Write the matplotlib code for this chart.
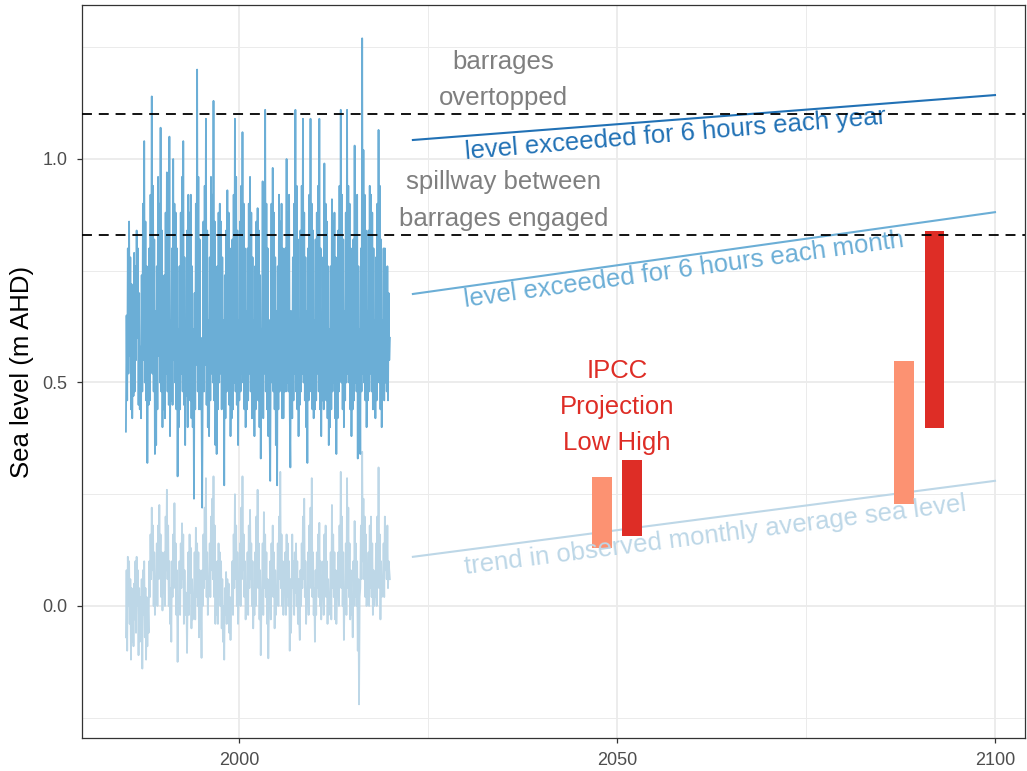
import numpy as np
import matplotlib
matplotlib.use('Agg')
import matplotlib.pyplot as plt

plt.rcParams['font.family'] = ['Liberation Sans', 'DejaVu Sans']

# observed record, one row per year (Jan..Dec)
years = list(range(1985, 2020))

monthly_max = [
    [0.39, 0.65, 0.46, 0.80, 0.52, 0.86, 0.56, 0.78, 0.44, 0.72, 0.42, 0.62],
    [0.47, 0.79, 0.48, 0.76, 0.55, 0.84, 0.60, 0.80, 0.45, 0.70, 0.44, 0.58],
    [0.42, 0.74, 0.48, 0.90, 0.55, 1.04, 0.50, 0.86, 0.46, 0.76, 0.32, 0.62],
    [0.45, 0.80, 0.46, 0.92, 0.58, 1.14, 0.52, 0.94, 0.48, 0.82, 0.34, 0.66],
    [0.36, 0.76, 0.44, 0.96, 0.56, 0.90, 0.50, 1.07, 0.48, 0.84, 0.40, 0.68],
    [0.44, 0.74, 0.42, 0.88, 0.52, 0.97, 0.48, 0.92, 0.45, 1.05, 0.38, 0.64],
    [0.46, 0.80, 0.45, 1.00, 0.55, 0.90, 0.50, 0.88, 0.44, 0.80, 0.29, 0.62],
    [0.40, 0.76, 0.44, 0.88, 0.52, 0.96, 0.48, 1.04, 0.45, 0.78, 0.36, 0.64],
    [0.47, 0.84, 0.40, 0.92, 0.50, 0.88, 0.46, 0.92, 0.42, 0.76, 0.40, 0.62],
    [0.24, 0.70, 0.44, 0.90, 0.54, 1.20, 0.48, 0.96, 0.44, 0.82, 0.44, 0.60],
    [0.45, 0.22, 0.56, 0.86, 0.48, 0.94, 0.54, 1.09, 0.45, 0.84, 0.40, 0.64],
    [0.38, 0.78, 0.46, 0.96, 0.52, 0.92, 0.50, 1.13, 0.46, 0.86, 0.36, 0.64],
    [0.34, 0.76, 0.44, 0.88, 0.50, 0.90, 0.52, 0.86, 0.44, 0.78, 0.46, 0.64],
    [0.27, 0.74, 0.42, 0.84, 0.48, 0.93, 0.50, 0.88, 0.45, 0.80, 0.38, 0.62],
    [0.42, 0.82, 0.44, 0.92, 0.50, 1.09, 0.48, 0.96, 0.45, 0.84, 0.36, 0.64],
    [0.46, 0.86, 0.48, 0.94, 0.52, 1.06, 0.50, 0.90, 0.44, 0.80, 0.40, 0.66],
    [0.44, 0.80, 0.46, 0.90, 0.52, 0.96, 0.48, 0.88, 0.42, 0.78, 0.42, 0.64],
    [0.38, 0.76, 0.44, 0.86, 0.50, 0.89, 0.46, 0.84, 0.40, 0.74, 0.33, 0.62],
    [0.52, 0.95, 0.42, 0.88, 0.52, 1.11, 0.48, 0.90, 0.44, 0.80, 0.38, 0.64],
    [0.40, 0.28, 0.62, 0.90, 0.50, 0.98, 0.48, 0.88, 0.44, 0.78, 0.36, 0.66],
    [0.27, 0.76, 0.44, 0.92, 0.48, 0.86, 0.50, 0.90, 0.42, 0.80, 0.42, 0.64],
    [0.48, 0.80, 0.48, 1.00, 0.50, 0.88, 0.48, 0.92, 0.44, 0.31, 0.66, 0.60],
    [0.42, 0.78, 0.46, 0.90, 0.52, 1.11, 0.48, 0.94, 0.44, 0.82, 0.38, 0.64],
    [0.45, 0.84, 0.48, 0.94, 0.52, 1.09, 0.50, 0.88, 0.46, 0.78, 0.40, 0.66],
    [0.32, 0.80, 0.46, 0.92, 0.50, 1.09, 0.48, 0.90, 0.44, 0.84, 0.42, 0.64],
    [0.44, 0.82, 0.46, 0.88, 0.52, 0.94, 0.48, 1.09, 0.44, 0.80, 0.38, 0.64],
    [0.46, 0.78, 0.44, 0.99, 0.50, 0.90, 0.46, 0.86, 0.42, 0.76, 0.36, 0.62],
    [0.40, 0.76, 0.44, 0.91, 0.48, 0.86, 0.50, 0.88, 0.42, 0.78, 0.34, 0.64],
    [0.42, 0.84, 0.48, 0.94, 0.52, 1.11, 0.50, 0.92, 0.44, 0.82, 0.40, 0.66],
    [0.46, 0.88, 0.50, 1.11, 0.52, 0.94, 0.50, 0.90, 0.44, 0.80, 0.38, 0.64],
    [0.44, 0.82, 0.46, 1.03, 0.50, 0.88, 0.48, 0.92, 0.33, 0.76, 0.42, 0.62],
    [0.34, 0.80, 0.48, 1.27, 0.52, 1.02, 0.50, 0.92, 0.46, 0.84, 0.40, 0.66],
    [0.46, 0.84, 0.48, 0.94, 0.52, 0.92, 0.48, 0.88, 0.44, 0.80, 0.44, 0.64],
    [0.42, 0.78, 0.46, 0.90, 0.52, 1.065, 0.50, 0.94, 0.44, 0.82, 0.40, 0.64],
    [0.48, 0.80, 0.46, 0.80, 0.50, 0.74, 0.48, 0.76, 0.46, 0.70, 0.55, 0.60],
]

monthly_mean = [
    [-0.07, 0.08, -0.10, 0.11, 0.00, 0.10, -0.04, 0.06, -0.12, 0.04, -0.08, 0.02],
    [-0.09, 0.05, -0.03, 0.10, -0.06, 0.11, 0.00, 0.08, -0.11, 0.04, -0.08, 0.02],
    [-0.05, 0.06, -0.14, 0.08, -0.02, 0.10, -0.07, 0.04, -0.12, 0.02, -0.09, 0.00],
    [-0.06, 0.10, 0.02, 0.16, 0.06, 0.22, 0.08, 0.18, 0.00, 0.12, -0.02, 0.05],
    [0.04, 0.14, 0.00, 0.18, 0.06, 0.226, 0.08, 0.16, 0.02, 0.12, -0.01, 0.06],
    [0.03, 0.12, 0.00, 0.20, 0.08, 0.26, 0.06, 0.18, 0.00, 0.10, -0.04, 0.04],
    [-0.08, 0.10, 0.02, 0.16, 0.04, 0.23, 0.06, 0.14, -0.02, 0.08, -0.125, 0.02],
    [0.00, 0.10, -0.02, 0.14, 0.04, 0.185, 0.06, 0.16, -0.04, 0.08, -0.02, 0.03],
    [0.02, -0.105, 0.04, 0.12, -0.02, 0.16, 0.03, 0.13, -0.05, 0.06, -0.03, 0.02],
    [0.00, 0.12, -0.03, 0.175, 0.02, 0.14, 0.00, 0.12, -0.07, 0.08, -0.05, 0.01],
    [-0.116, 0.08, 0.00, 0.16, 0.04, 0.22, 0.06, 0.286, 0.02, 0.12, -0.02, 0.04],
    [0.04, 0.14, 0.02, 0.20, 0.08, 0.24, 0.06, 0.29, 0.02, 0.18, -0.04, 0.08],
    [-0.02, 0.10, -0.04, 0.14, 0.02, 0.12, 0.00, 0.10, -0.05, 0.06, -0.08, 0.00],
    [-0.12, 0.04, -0.02, 0.076, -0.04, 0.06, 0.00, 0.05, -0.06, 0.02, -0.076, 0.00],
    [0.02, 0.10, -0.02, 0.16, 0.04, 0.25, 0.06, 0.18, 0.00, 0.12, -0.04, 0.04],
    [0.04, 0.14, 0.00, 0.22, 0.06, 0.29, 0.08, 0.16, 0.02, 0.10, -0.03, 0.04],
    [0.00, 0.12, -0.02, 0.18, 0.04, 0.215, 0.06, 0.14, 0.00, 0.10, -0.05, 0.02],
    [-0.02, 0.12, 0.00, 0.20, 0.06, 0.26, 0.04, 0.14, -0.03, 0.08, -0.11, 0.00],
    [0.02, 0.14, -0.02, 0.21, 0.04, 0.16, 0.02, 0.12, -0.04, 0.06, -0.117, 0.00],
    [0.00, 0.10, -0.03, 0.14, 0.04, 0.18, 0.02, 0.12, -0.05, 0.08, -0.02, 0.02],
    [0.02, 0.14, 0.00, 0.20, 0.06, 0.30, 0.04, 0.16, 0.00, 0.10, -0.02, 0.05],
    [0.03, 0.12, -0.02, 0.16, 0.02, 0.14, 0.00, 0.10, -0.10, 0.06, -0.06, 0.02],
    [0.16, 0.04, 0.10, -0.02, 0.12, 0.03, 0.14, 0.00, 0.10, -0.04, 0.06, -0.03],
    [-0.076, 0.08, 0.00, 0.14, 0.04, 0.20, 0.06, 0.24, 0.02, 0.10, -0.04, 0.03],
    [0.00, 0.12, -0.02, 0.18, 0.06, 0.22, 0.04, 0.286, 0.02, 0.12, -0.02, 0.04],
    [-0.08, 0.08, -0.02, 0.12, 0.04, 0.16, 0.02, 0.186, 0.00, 0.10, -0.03, 0.03],
    [0.02, 0.10, -0.02, 0.16, 0.04, 0.18, 0.02, 0.10, -0.04, 0.06, -0.02, 0.02],
    [0.00, 0.12, -0.03, 0.226, 0.04, 0.16, 0.02, 0.12, -0.03, 0.08, -0.04, 0.02],
    [0.02, 0.12, 0.00, 0.18, 0.06, 0.30, 0.04, 0.20, 0.00, 0.12, -0.076, 0.02],
    [0.00, 0.14, -0.02, 0.286, 0.04, 0.22, 0.02, 0.14, -0.03, 0.08, -0.02, 0.02],
    [-0.07, 0.10, 0.00, 0.19, 0.02, 0.14, 0.00, 0.10, -0.10, 0.06, -0.22, 0.02],
    [0.04, 0.18, 0.06, 0.345, 0.10, 0.24, 0.06, 0.20, 0.02, 0.16, 0.00, 0.06],
    [0.02, 0.12, 0.00, 0.18, 0.04, 0.20, 0.02, 0.14, -0.02, 0.08, 0.00, 0.04],
    [0.02, 0.14, 0.00, 0.20, 0.06, 0.31, 0.04, 0.16, -0.03, 0.10, 0.02, 0.06],
    [0.04, 0.14, 0.02, 0.20, 0.08, 0.14, 0.06, 0.18, 0.04, 0.10, 0.08, 0.06],
]

# projected trend lines (start year, end year) and levels
trend_years = [2023, 2100]
year_exceed = [1.0425, 1.143]
month_exceed = [0.698, 0.881]
trend_mean = [0.110, 0.280]

# threshold levels
overtop_level = 1.10
spillway_level = 0.83

# IPCC projection bars
ipcc_years_low = [2048, 2088]
ipcc_low_min = [0.130, 0.228]
ipcc_low_max = [0.289, 0.548]
ipcc_years_high = [2052, 2092]
ipcc_high_min = [0.157, 0.398]
ipcc_high_max = [0.327, 0.839]

blues = ['#EFF3FF', '#BDD7E7', '#6BAED6', '#2171B5']
reds = ['#FC9272', '#DE2D26']
grey_txt = '#7F7F7F'
fs = 18.5

t = np.array([y + (m + 0.5) / 12 for y in years for m in range(12)])
vmax = np.array(monthly_max).ravel()
vmean = np.array(monthly_mean).ravel()

fig = plt.figure(figsize=(10.27, 7.71), dpi=100)
ax = fig.add_axes([82 / 1027, 33 / 771, 943 / 1027, 733 / 771])

ax.plot(t, vmean, color=blues[1], lw=1.3, zorder=3)
ax.plot(t, vmax, color=blues[2], lw=1.3, zorder=3)

ax.plot(trend_years, year_exceed, color=blues[3], lw=1.5, zorder=3)
ax.plot(trend_years, month_exceed, color=blues[2], lw=1.5, zorder=3)
ax.plot(trend_years, trend_mean, color=blues[1], lw=1.5, zorder=3)

ax.axhline(overtop_level, color='black', lw=1.3, ls=(0, (5.5, 3.8)), zorder=4)
ax.axhline(spillway_level, color='black', lw=1.3, ls=(0, (5.5, 3.8)), zorder=4)

lo = np.array(ipcc_low_min); hi = np.array(ipcc_low_max)
ax.bar(ipcc_years_low, hi - lo, bottom=lo, width=2.6, color=reds[0], zorder=3)
lo = np.array(ipcc_high_min); hi = np.array(ipcc_high_max)
ax.bar(ipcc_years_high, hi - lo, bottom=lo, width=2.6, color=reds[1], zorder=3)

ax.text(2035, 1.177, 'barrages\novertopped', color=grey_txt, fontsize=fs,
        ha='center', va='center', linespacing=1.64)
ax.text(2035, 0.907, 'spillway between\nbarrages engaged', color=grey_txt, fontsize=fs,
        ha='center', va='center', linespacing=1.64)
ax.text(2050, 0.445, 'IPCC\nProjection\nLow High', color=reds[1], fontsize=fs,
        ha='center', va='center', linespacing=1.64)

ax.text(2057.7, 1.056, 'level exceeded for 6 hours each year', color=blues[3],
        fontsize=fs, ha='center', va='center', rotation=4.8, rotation_mode='anchor')
ax.text(2058.9, 0.752, 'level exceeded for 6 hours each month', color=blues[2],
        fontsize=fs, ha='center', va='center', rotation=7.8, rotation_mode='anchor')
ax.text(2063.0, 0.157, 'trend in observed monthly average sea level', color=blues[1],
        fontsize=fs, ha='center', va='center', rotation=7.2, rotation_mode='anchor')

ax.set_xlim(1979.23, 2103.97)
ax.set_ylim(-0.2953, 1.3445)
ax.set_xticks([2000, 2050, 2100])
ax.set_xticks([2025, 2075], minor=True)
ax.set_yticks([0.0, 0.5, 1.0])
ax.set_yticklabels(['0.0', '0.5', '1.0'])
ax.set_yticks([-0.25, 0.25, 0.75, 1.25], minor=True)
ax.grid(which='major', color='#EBEBEB', lw=1.3, zorder=0)
ax.grid(which='minor', color='#EBEBEB', lw=0.7, zorder=0)
ax.set_axisbelow(True)
ax.tick_params(which='major', length=3.5, width=0.9, color='#333333',
               labelcolor='#4D4D4D', labelsize=13)
ax.tick_params(axis='y', pad=7)
ax.tick_params(axis='x', pad=6.5)
ax.tick_params(which='minor', length=0)
for s in ax.spines.values():
    s.set_color('#333333')
    s.set_linewidth(0.9)
ax.set_ylabel('Sea level (m AHD)', fontsize=fs, color='black', labelpad=6)

fig.savefig('out.png', dpi=100)
